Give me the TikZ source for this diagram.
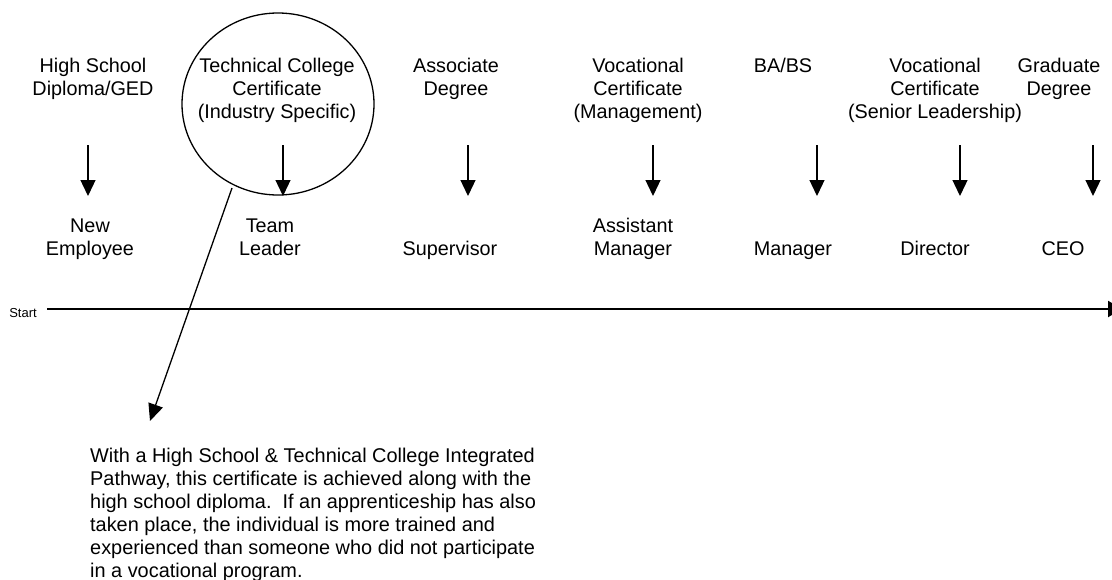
\documentclass[tikz,border=0pt]{standalone}
\usepackage{fontspec}
\setmainfont{Liberation Sans}
\usetikzlibrary{arrows.meta,shapes.geometric}
\begin{document}
\begin{tikzpicture}[x=1pt,y=-1pt,
  lbl/.style={font=\fontsize{19.8}{23}\selectfont,align=center,inner sep=0pt,anchor=base},
  stepdown/.style={line width=1.3pt,-{Triangle[width=15pt,length=16pt]}},
  note/.style={font=\fontsize{19.9}{23}\selectfont,align=left,inner sep=0pt,anchor=base west}]
\useasboundingbox (0,0) rectangle (1112,579);
\clip (0,0) rectangle (1112,579);
% top row (base = baseline of last line)
\node[lbl] (hs) at (93,95) {High School\\Diploma/GED};
\node[lbl] (tc) at (277,118) {Technical College\\Certificate\\(Industry Specific)};
\node[lbl] (ad) at (456,95) {Associate\\Degree};
\node[lbl] (vm) at (638,118) {Vocational\\Certificate\\(Management)};
\node[lbl] (ba) at (783,72) {BA/BS};
\node[lbl] (vs) at (935,118) {Vocational\\Certificate\\(Senior Leadership)};
\node[lbl] (gd) at (1059,95) {Graduate\\Degree};
% bottom row
\node[lbl] (ne) at (90,255) {New\\Employee};
\node[lbl] (tl) at (270,255) {Team\\Leader};
\node[lbl] (su) at (450,255) {Supervisor};
\node[lbl] (am) at (633,255) {Assistant\\Manager};
\node[lbl] (ma) at (793,255) {Manager};
\node[lbl] (di) at (935,255) {Director};
\node[lbl] (ce) at (1063,255) {CEO};
% arrows
\foreach \n/\x in {1/88,2/283,3/468,4/653,5/817,6/960,7/1093}{
  \coordinate (a\n) at (\x,145);
  \coordinate (b\n) at (\x,196);
  \draw[stepdown] (a\n) -- (b\n);
}
% circle
\node[draw,ellipse,line width=1.3pt,minimum width=192pt,minimum height=182pt,inner sep=0pt] (circ) at (278,104) {};
% timeline
\node[font=\fontsize{13}{15}\selectfont,inner sep=0pt] (start) at (23,313) {Start};
\coordinate (tlstart) at (47,309);
\coordinate (tlend) at (1122,309);
\draw[line width=2.2pt,-{Triangle[width=16pt,length=14pt]}] (tlstart) -- (tlend);
% leader
\coordinate (lfrom) at (232,188);
\coordinate (lto) at (150,421);
\draw[line width=1.3pt,-{Triangle[width=15pt,length=17pt]}] (lfrom) -- (lto);
% note
\node[note] (txt) at (90,577) {With a High School \& Technical College Integrated\\Pathway, this certificate is achieved along with the\\high school diploma.\ \ If an apprenticeship has also\\taken place, the individual is more trained and\\experienced than someone who did not participate\\in a vocational program.};
\end{tikzpicture}
\end{document}
